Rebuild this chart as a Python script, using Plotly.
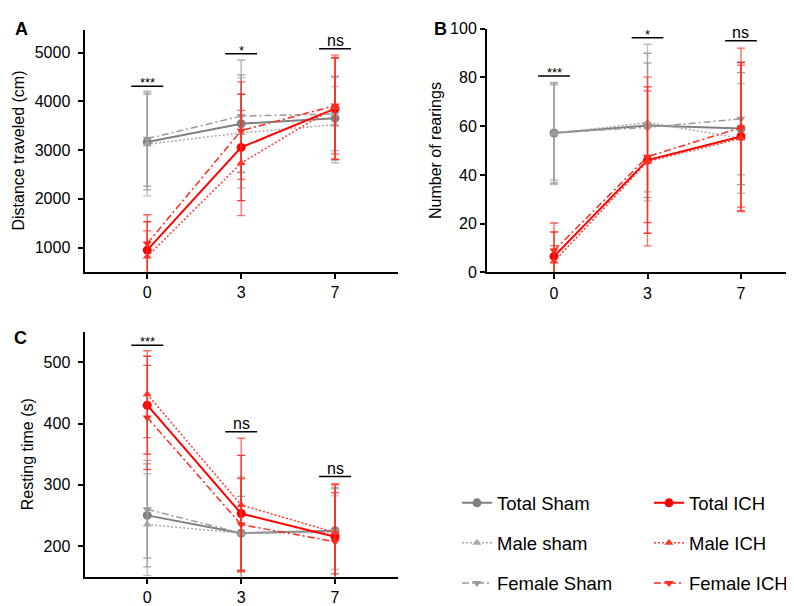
import plotly.graph_objects as go

# ---------------- data ----------------
days = ["0", "3", "7"]
series_names = ["Total Sham", "Male sham", "Female Sham", "Total ICH", "Male ICH", "Female ICH"]

# A: Distance traveled (cm)
dist_total_sham = [3166, 3540, 3655]
dist_male_sham = [3119, 3352, 3520]
dist_female_sham = [3233, 3697, 3740]
dist_total_ich = [950, 3055, 3850]
dist_male_ich = [817, 2735, 3880]
dist_female_ich = [1084, 3398, 3912]
dist_total_sham_err = [980, 1000, 860]
dist_male_sham_err = [1060, 1130, 780]
dist_female_sham_err = [975, 1150, 750]
dist_total_ich_err = [580, 1090, 1035]
dist_male_ich_err = [525, 1080, 1065]
dist_female_ich_err = [590, 1000, 990]

# B: Number of rearings
rear_total_sham = [57.2, 60.3, 59.0]
rear_male_sham = [57.0, 61.5, 55.0]
rear_female_sham = [57.4, 59.5, 63.0]
rear_total_ich = [6.6, 46.1, 55.8]
rear_male_ich = [4.5, 45.5, 55.0]
rear_female_ich = [9.0, 47.5, 59.4]
rear_total_sham_err = [20.5, 29.6, 23.0]
rear_male_sham_err = [21.0, 32.1, 22.5]
rear_female_sham_err = [19.5, 26.4, 23.0]
rear_total_ich_err = [10.0, 30.0, 30.5]
rear_male_ich_err = [6.5, 34.6, 30.0]
rear_female_ich_err = [11.3, 27.0, 32.6]

# C: Resting time (s)
rest_total_sham = [250, 221, 225]
rest_male_sham = [235, 221, 222]
rest_female_sham = [260, 221, 224]
rest_total_ich = [430, 253, 215]
rest_male_ich = [448, 267, 222]
rest_female_ich = [410, 235, 207]
rest_total_sham_err = [84, 60, 70]
rest_male_sham_err = [83, 90, 60]
rest_female_sham_err = [80, 92, 70]
rest_total_ich_err = [80, 95, 85]
rest_male_ich_err = [71, 109, 80]
rest_female_ich_err = [85, 75, 80]

# significance labels per panel (one per day)
sig_A = ["***", "*", "ns"]
sig_A_y = [4307, 4976, 5076]
sig_B = ["***", "*", "ns"]
sig_B_y = [80.6, 96.3, 95.0]
sig_C = ["***", "ns", "ns"]
sig_C_y = [528, 386.6, 313.4]

# ---------------- styles ----------------
FONT = "Liberation Sans, Arial, Helvetica, sans-serif"
styles = {
    "Total Sham":  dict(color="#808080", err="rgba(128,128,128,0.75)", dash="solid", width=2, symbol="circle", size=9, legend="legend"),
    "Male sham":   dict(color="#a8a8a8", err="rgba(168,168,168,0.75)", dash="2px,2px", width=1.5, symbol="triangle-up", size=8, legend="legend"),
    "Female Sham": dict(color="#9a9a9a", err="rgba(150,150,150,0.75)", dash="7px,3px,2px,3px", width=1.5, symbol="triangle-down", size=8, legend="legend"),
    "Total ICH":   dict(color="#ff0000", err="rgba(255,0,0,0.8)", dash="solid", width=2, symbol="circle", size=9, legend="legend2"),
    "Male ICH":    dict(color="#ff3b2f", err="rgba(255,59,47,0.75)", dash="2px,2px", width=1.5, symbol="triangle-up", size=8, legend="legend2"),
    "Female ICH":  dict(color="#ff2a1a", err="rgba(255,42,26,0.75)", dash="7px,3px,2px,3px", width=1.5, symbol="triangle-down", size=8, legend="legend2"),
}

panels = [
    ("x", "y", [dist_total_sham, dist_male_sham, dist_female_sham, dist_total_ich, dist_male_ich, dist_female_ich],
     [dist_total_sham_err, dist_male_sham_err, dist_female_sham_err, dist_total_ich_err, dist_male_ich_err, dist_female_ich_err]),
    ("x2", "y2", [rear_total_sham, rear_male_sham, rear_female_sham, rear_total_ich, rear_male_ich, rear_female_ich],
     [rear_total_sham_err, rear_male_sham_err, rear_female_sham_err, rear_total_ich_err, rear_male_ich_err, rear_female_ich_err]),
    ("x3", "y3", [rest_total_sham, rest_male_sham, rest_female_sham, rest_total_ich, rest_male_ich, rest_female_ich],
     [rest_total_sham_err, rest_male_sham_err, rest_female_sham_err, rest_total_ich_err, rest_male_ich_err, rest_female_ich_err]),
]

fig = go.Figure()
for pi, (xa, ya, vals, errs) in enumerate(panels):
    for name, v, e in zip(series_names, vals, errs):
        s = styles[name]
        fig.add_trace(go.Scatter(
            x=days, y=v, xaxis=xa, yaxis=ya, name=name,
            mode="lines+markers",
            line=dict(color=s["color"], width=s["width"], dash=s["dash"]),
            marker=dict(symbol=s["symbol"], size=s["size"], color=s["color"]),
            error_y=dict(type="data", array=e, color=s["err"], thickness=1.3, width=4),
            legend=s["legend"], legendgroup=name, showlegend=(pi == 0),
        ))

# page offset compensation (browser body margin)
OFF = 8
W, H = 794 - OFF, 606 - OFF


def px_x(a, b):
    return [max(0, (a - OFF) / W), min(1, (b - OFF) / W)]


def px_y(top, bottom):
    return [1 - (bottom - OFF) / H, 1 - (top - OFF) / H]


def paper_x(a):
    return (a - OFF) / W


def paper_y(t):
    return 1 - (t - OFF) / H


# significance bars
shapes = []
annotations = []
for xa, ya, labels, ys in [("x", "y", sig_A, sig_A_y), ("x2", "y2", sig_B, sig_B_y), ("x3", "y3", sig_C, sig_C_y)]:
    for i, (lab, yv) in enumerate(zip(labels, ys)):
        shapes.append(dict(type="line", xref=xa, yref=ya, x0=i - 0.17, x1=i + 0.17, y0=yv, y1=yv,
                           line=dict(color="black", width=1.5)))
        star = lab != "ns"
        annotations.append(dict(xref=xa, yref=ya, x=i, y=yv, text=lab, showarrow=False,
                                yanchor="bottom", yshift=-6 if star else -2,
                                font=dict(size=13 if star else 16, color="black", family=FONT)))

# panel letters
for letter, x, y in [("A", 13, 21), ("B", 432, 21), ("C", 12, 339)]:
    annotations.append(dict(xref="paper", yref="paper", x=paper_x(x), y=paper_y(y), text="<b>%s</b>" % letter,
                            showarrow=False, xanchor="left", yanchor="middle",
                            font=dict(size=18, color="black", family=FONT)))

axis_common = dict(showline=True, linewidth=2, linecolor="black", ticks="outside", ticklen=5,
                   tickwidth=1.5, tickcolor="black", showgrid=False, zeroline=False,
                   tickfont=dict(size=16, color="black", family=FONT))

fig.update_layout(
    width=W, height=H, margin=dict(l=0, r=0, t=0, b=0),
    paper_bgcolor="white", plot_bgcolor="white",
    font=dict(family=FONT, color="black"),
    shapes=shapes, annotations=annotations,
    xaxis=dict(axis_common, domain=px_x(84.5, 398), anchor="y", type="category", range=[-0.668, 2.67]),
    yaxis=dict(axis_common, ticklabelstandoff=4, domain=px_y(22, 271), anchor="x", range=[510, 5470],
               tickvals=[1000, 2000, 3000, 4000, 5000],
               title=dict(text="Distance traveled (cm)", font=dict(size=16), standoff=6)),
    xaxis2=dict(axis_common, domain=px_x(487, 794), anchor="y2", type="category", range=[-0.717, 2.567]),
    yaxis2=dict(axis_common, ticklabelstandoff=0, domain=px_y(21, 272), anchor="x2", range=[0, 100],
                tickvals=[0, 20, 40, 60, 80, 100],
                title=dict(text="Number of rearings", font=dict(size=16), standoff=4)),
    xaxis3=dict(axis_common, domain=px_x(84.5, 398), anchor="y3", type="category", range=[-0.668, 2.67]),
    yaxis3=dict(axis_common, ticklabelstandoff=4, domain=px_y(333, 585), anchor="x3", range=[150, 550],
                tickvals=[200, 300, 400, 500],
                title=dict(text="Resting time (s)", font=dict(size=16), standoff=6)),
    legend=dict(x=paper_x(457), y=paper_y(490), xanchor="left", yanchor="top", traceorder="grouped",
                tracegroupgap=13, font=dict(size=18.5, color="black", family=FONT), bgcolor="rgba(0,0,0,0)"),
    legend2=dict(x=paper_x(649), y=paper_y(490), xanchor="left", yanchor="top", traceorder="grouped",
                 tracegroupgap=13, font=dict(size=18.5, color="black", family=FONT), bgcolor="rgba(0,0,0,0)"),
)

fig.write_html("out.html")
